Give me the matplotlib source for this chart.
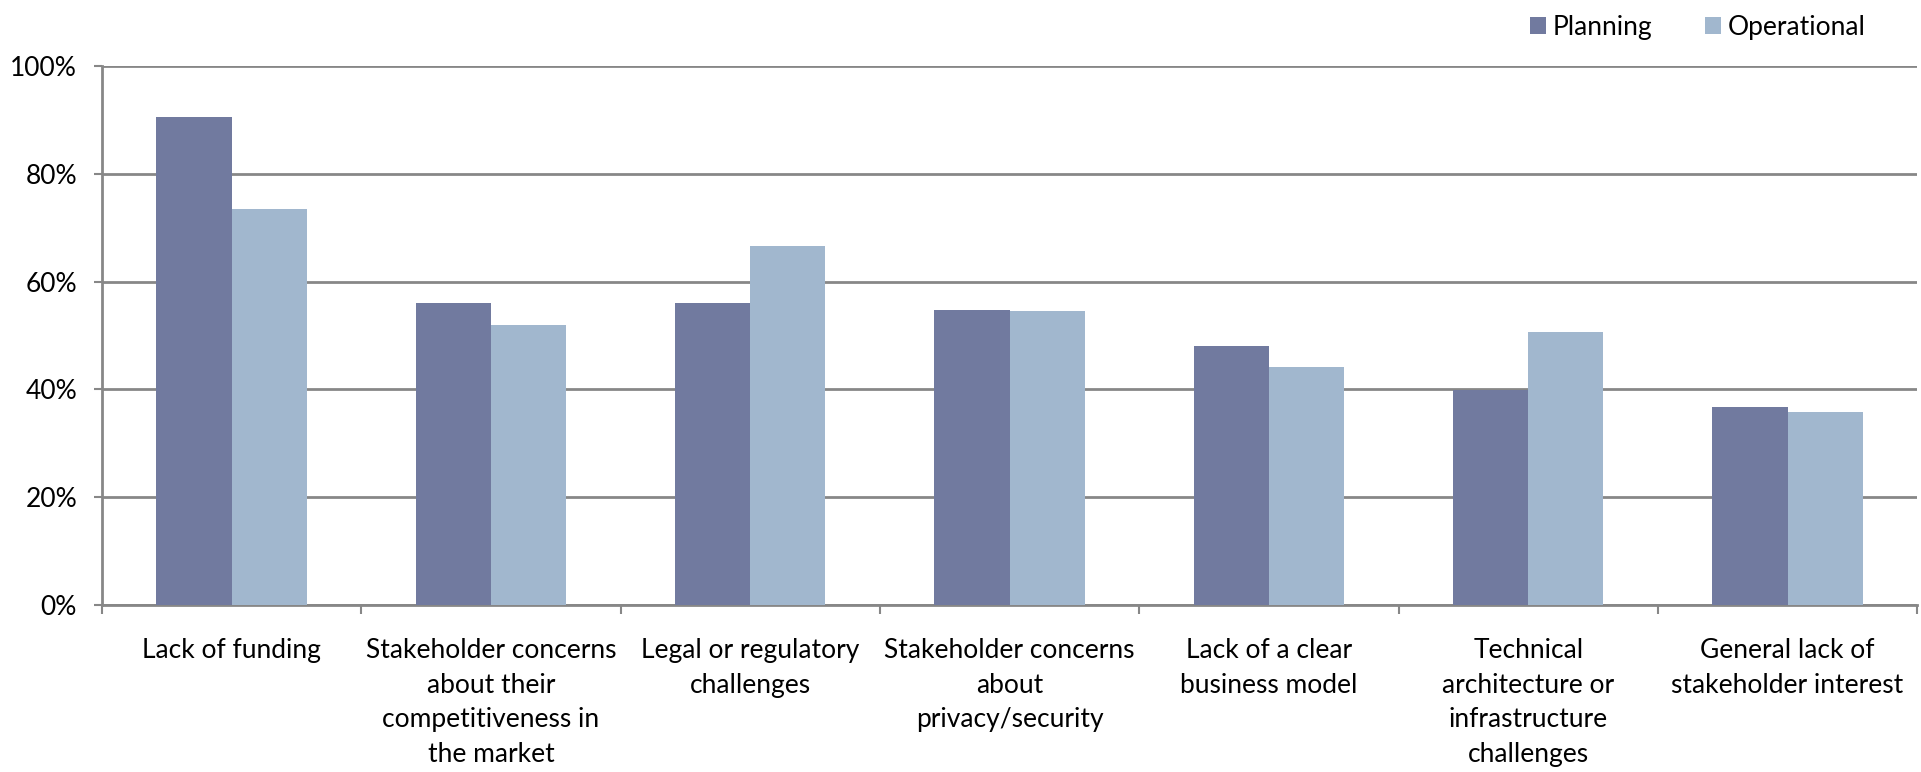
import matplotlib
matplotlib.use("Agg")
import matplotlib.pyplot as plt
import numpy as np

categories = [
    "Lack of funding",
    "Stakeholder concerns\nabout their\ncompetitiveness in\nthe market",
    "Legal or regulatory\nchallenges",
    "Stakeholder concerns\nabout\nprivacy/security",
    "Lack of a clear\nbusiness model",
    "Technical\narchitecture or\ninfrastructure\nchallenges",
    "General lack of\nstakeholder interest",
]
planning = [90.5, 56.1, 56.1, 54.8, 48.0, 39.8, 36.8]
operational = [73.4, 52.0, 66.6, 54.5, 44.1, 50.7, 35.9]
series_names = ["Planning", "Operational"]
yticks = [0, 20, 40, 60, 80, 100]

plt.rcParams['font.family'] = ['Lato', 'DejaVu Sans']
FS = 19
c_plan = "#717A9F"
c_oper = "#A1B7CE"
gray = "#878787"

fig = plt.figure(figsize=(19.21, 7.72), dpi=100)
ax = fig.add_axes([0.0531, 0.2163, 0.9449, 0.6982])

x = np.arange(len(categories))
w = 0.29
ax.bar(x - w/2, planning, w, color=c_plan, label=series_names[0], zorder=3)
ax.bar(x + w/2, operational, w, color=c_oper, label=series_names[1], zorder=3)

ax.set_xlim(-0.5, len(categories) - 0.5)
ax.set_ylim(0, 100)
ax.set_yticks(yticks)
ax.set_yticklabels([f"{v}%" for v in yticks], fontsize=FS)
ax.yaxis.grid(True, color=gray, linewidth=2, zorder=0)
ax.set_axisbelow(True)

ax.set_xticks(x)
ax.set_xticklabels(categories, fontsize=FS, linespacing=1.47, va='top')
ax.set_xticks(np.arange(len(categories) + 1) - 0.5, minor=True)
ax.tick_params(axis='x', which='major', length=0, pad=24)
ax.tick_params(axis='x', which='minor', length=6.5, width=1.5, color=gray)
ax.tick_params(axis='y', length=6, width=1.5, color=gray, pad=12)

for s in ['top', 'right']:
    ax.spines[s].set_visible(False)
for s in ['left', 'bottom']:
    ax.spines[s].set_color(gray)
    ax.spines[s].set_linewidth(2)

fig.legend(loc='center right', bbox_to_anchor=(0.971, 0.965), ncol=2,
           frameon=False, fontsize=FS, handlelength=0.6, handleheight=0.6,
           handletextpad=0.25, columnspacing=2.0, borderpad=0, borderaxespad=0)

fig.savefig("out.png", dpi=100)
